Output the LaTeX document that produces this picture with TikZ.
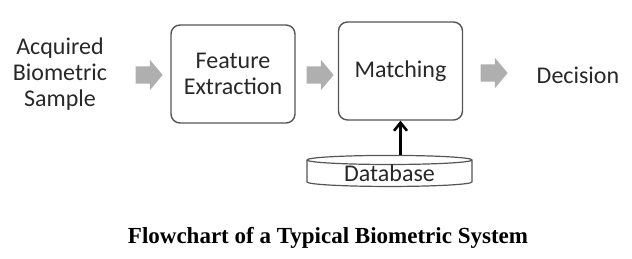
\documentclass[tikz,border=0pt]{standalone}
\usepackage{fontspec}
\setmainfont{Carlito}
\newfontfamily\capfont{Liberation Serif}
\usetikzlibrary{shapes.geometric, shapes.arrows, arrows.meta, positioning}
\definecolor{boxline}{RGB}{85,85,85}
\definecolor{flowgrey}{RGB}{175,175,175}
\definecolor{labelink}{RGB}{40,40,40}
\tikzset{
  bmbox/.style={rectangle, rounded corners=9pt, draw=boxline, line width=1.4pt,
    minimum width=124pt, minimum height=98pt, align=center, text=labelink,
    font=\fontsize{24}{26}\selectfont},
  bmtext/.style={align=center, text=labelink, font=\fontsize{24}{26}\selectfont},
  bmflow/.style={single arrow, fill=flowgrey, draw=none, inner sep=8.5pt,
    minimum width=30pt, minimum height=27pt, single arrow head extend=6.5pt,
    single arrow tip angle=100},
  bmdb/.style={cylinder, shape border rotate=90, draw=boxline, line width=1.2pt,
    aspect=0.1, minimum width=165pt, minimum height=29pt, inner sep=0pt,
    text=labelink, font=\fontsize{24}{26}\selectfont},
  bmlink/.style={-{Straight Barb[length=8pt, width=13pt]}, line width=2.6pt},
}
\begin{document}
\begin{tikzpicture}[x=1pt, y=-1pt]
\useasboundingbox (0,0) rectangle (632,259);

\node[bmtext] (sample) at (60,74) {Acquired\\Biometric\\Sample};
\node[bmflow] (a1) at (145.5,75) {};
\node[bmbox] (feat) at (233,74) {Feature\\Extraction};
\node[bmflow] (a2) at (316.5,75) {};
\node[bmbox] (match) at (400.5,71) {Matching};
\node[bmflow] (a3) at (490.5,73) {};
\node[bmtext] (decision) at (578,75) {Decision};

\node[bmdb] (db) at (389.5,173.5) {Database};
\draw[bmlink] (db.north -| match.south) -- (match.south);

\node[font=\capfont\bfseries\fontsize{23}{26}\selectfont] (caption) at (328,238)
  {Flowchart of a Typical Biometric System};
\end{tikzpicture}
\end{document}
